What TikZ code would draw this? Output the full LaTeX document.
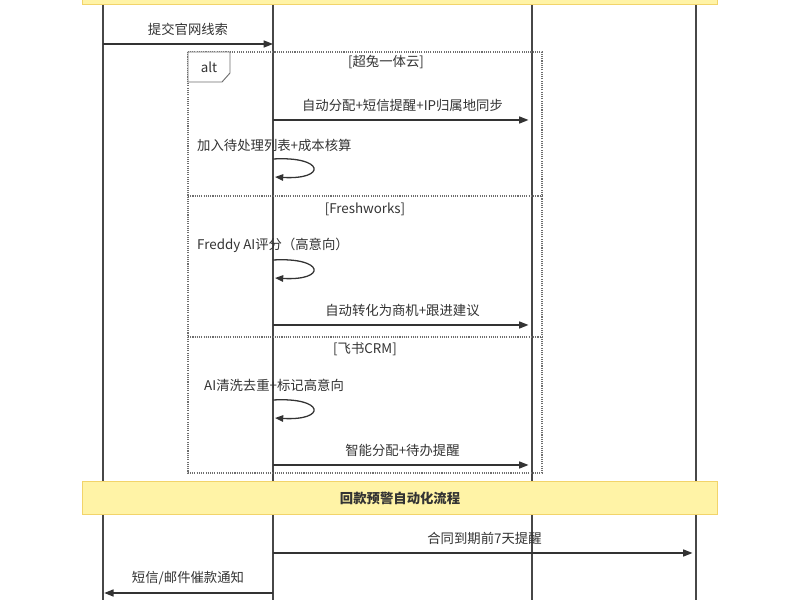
\documentclass[tikz,border=0pt]{standalone}
\usepackage{fontspec}
\setmainfont{Noto Sans CJK SC}
\usetikzlibrary{arrows.meta,positioning,calc}
\definecolor{bandfill}{HTML}{FFF3A6}
\definecolor{bandline}{HTML}{F2D46A}
\definecolor{ink}{HTML}{333333}
\definecolor{frameline}{HTML}{6E6E6E}

\begin{document}
\begin{tikzpicture}[x=0.03cm,y=-0.03cm,
    font=\fontsize{11.4}{13}\selectfont, color=ink,
    lifeline/.style={draw=ink!90, line width=1.3pt},
    msg/.style={draw=ink, line width=1.2pt, -{Triangle[length=8pt,width=6pt]}},
    selfmsg/.style={draw=ink, line width=1.1pt, -{Triangle[length=7pt,width=5.5pt]}},
    lbl/.style={inner sep=0pt, text=ink},
    band/.style={fill=bandfill, draw=bandline, line width=1pt},
    altframe/.style={draw=frameline, line width=0.9pt, densely dotted},
    tab/.style={draw=frameline, line width=0.8pt, fill=white}]
  \useasboundingbox (0,0) rectangle (800,600);
  % lifelines
  \foreach \p/\x in {user/103, sys/273, crm/532, fin/696} {
    \coordinate (\p top) at (\x,5);
    \coordinate (\p bot) at (\x,600);
    \draw[lifeline] (\p top) -- (\p bot);
    \foreach \m/\y in {m1/44, m2/120, m5/325, m7/465, m8/553, m9/593}
      \coordinate (\p-\m) at (\x,\y);
  }
  % self calls
  \coordinate (sys-l1a) at (273,159);
  \coordinate (sys-l1b) at (275,177);
  \coordinate (sys-l2a) at (273,260);
  \coordinate (sys-l2b) at (275,278);
  \coordinate (sys-l3a) at (273,400);
  \coordinate (sys-l3b) at (275,418);

  % bands
  \node[band, minimum width=635*0.03cm, minimum height=20*0.03cm, anchor=south west]
    (topband) at (82,5) {};
  \node[band, minimum width=635*0.03cm, minimum height=33*0.03cm, anchor=north west]
    (payband) at (82,481) {};
  \node[lbl, font=\fontsize{11.4}{13}\selectfont\bfseries] (paytitle) at (payband.center) {回款预警自动化流程};

  % alt frame
  \begin{scope}
    \draw[altframe] (188,52) rectangle (542,473);
    \draw[altframe] (188,196) -- (542,196);
    \draw[altframe] (188,337) -- (542,337);
    \draw[tab] (188,52) -- (230,52) -- (230,73) -- (222,82) -- (188,82) -- cycle;
    \node[lbl] (alttag) at (209,67) {alt};
    \node[lbl] (g1) at (386,62) {[超兔一体云]};
    \node[lbl] (g2) at (365,209) {[Freshworks]};
    \node[lbl] (g3) at (365,349) {[飞书CRM]};
  \end{scope}

  % messages
  \begin{scope}[every node/.style={lbl, midway, yshift=0.45cm}]
    \draw[msg] (user-m1) -- (sys-m1) node {提交官网线索};
    \draw[msg, shorten >=3pt] (sys-m2) -- (crm-m2) node {自动分配+短信提醒+IP归属地同步};
    \draw[msg, shorten >=3pt] (sys-m5) -- (crm-m5) node {自动转化为商机+跟进建议};
    \draw[msg, shorten >=3pt] (sys-m7) -- (crm-m7) node {智能分配+待办提醒};
    \draw[msg, shorten >=3pt] (sys-m8) -- (fin-m8) node {合同到期前7天提醒};
    \draw[msg, shorten >=1pt] (sys-m9) -- (user-m9) node {短信/邮件催款通知};
  \end{scope}

  % self calls
  \node[lbl, anchor=west] (s1) at (197,145) {加入待处理列表+成本核算};
  \draw[selfmsg] (sys-l1a) .. controls +(52,-3) and +(52,3) .. (sys-l1b);
  \node[lbl, anchor=west] (s2) at (197,245) {Freddy AI评分（高意向）};
  \draw[selfmsg] (sys-l2a) .. controls +(52,-3) and +(52,3) .. (sys-l2b);
  \node[lbl, anchor=west] (s3) at (204,385) {AI清洗去重+标记高意向};
  \draw[selfmsg] (sys-l3a) .. controls +(52,-3) and +(52,3) .. (sys-l3b);
\end{tikzpicture}
\end{document}
